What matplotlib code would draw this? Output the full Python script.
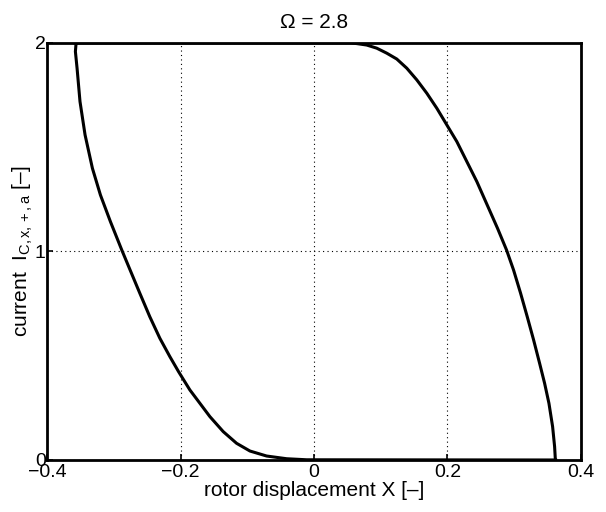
import numpy as np
import matplotlib
matplotlib.use('Agg')
import matplotlib.pyplot as plt

plt.rcParams['font.family'] = ['Liberation Sans', 'DejaVu Sans']
plt.rcParams['mathtext.fontset'] = 'custom'
plt.rcParams['mathtext.rm'] = 'Liberation Sans'
plt.rcParams['mathtext.it'] = 'Liberation Sans'

# Right-hand branch: current drops from 2 to 0 as X grows
x_right = [-0.358, 0.054, 0.064, 0.079, 0.094, 0.109, 0.124, 0.139, 0.154,
           0.169, 0.184, 0.199, 0.214, 0.229, 0.244, 0.2595, 0.275, 0.2885,
           0.299, 0.3095, 0.3195, 0.329, 0.338, 0.3455, 0.352, 0.3575, 0.3605,
           0.3615, 0.362]
i_right = [2.0, 2.0, 1.997, 1.990, 1.975, 1.951, 1.923, 1.879, 1.823,
           1.759, 1.687, 1.607, 1.527, 1.431, 1.335, 1.223, 1.111, 1.007,
           0.911, 0.800, 0.687, 0.576, 0.464, 0.368, 0.272, 0.160, 0.064,
           0.008, 0.0]

# Left-hand branch: current rises from 0 back to 2 as X decreases
x_left = [0.362, -0.011, -0.041, -0.071, -0.096, -0.116, -0.136, -0.156,
          -0.171, -0.186, -0.203, -0.216, -0.231, -0.246, -0.261, -0.2755,
          -0.288, -0.305, -0.320, -0.332, -0.343, -0.3506, -0.355, -0.3575,
          -0.3565, -0.355]
i_left = [0.0, 0.001, 0.006, 0.019, 0.043, 0.080, 0.136, 0.208,
          0.272, 0.336, 0.424, 0.496, 0.584, 0.687, 0.800, 0.911,
          1.007, 1.143, 1.271, 1.399, 1.559, 1.719, 1.879, 1.959,
          1.998, 2.0]

x_ticks = [-0.4, -0.2, 0, 0.2, 0.4]
x_ticklabels = ['\u22120.4', '\u22120.2', '0', '0.2', '0.4']
y_ticks = [0, 1, 2]

fig = plt.figure(figsize=(6.06, 5.12), dpi=100)
ax = fig.add_axes([0.0776, 0.1016, 0.8811, 0.8145])

ax.plot(x_right, i_right, 'k-', lw=2.2, solid_joinstyle='round')
ax.plot(x_left, i_left, 'k-', lw=2.2, solid_joinstyle='round')

ax.set_xlim(-0.4, 0.4)
ax.set_ylim(0, 2)
ax.set_xticks(x_ticks)
ax.set_xticklabels(x_ticklabels)
ax.set_yticks(y_ticks)
ax.grid(True, color='black', linestyle=(0, (1, 3)), linewidth=0.8)
ax.tick_params(direction='in', length=4, width=1.2, labelsize=14, pad=1)
ax.tick_params(axis='x', pad=3)
for side in ax.spines.values():
    side.set_linewidth(2.0)

ax.set_title('\u03a9 = 2.8', fontsize=15, pad=11)
ax.set_xlabel('rotor displacement X [\u2013]', fontsize=15, labelpad=0)
ax.set_ylabel('current  $\\mathrm{I}_{\\mathrm{C,x,+,a}}$ [\u2013]', fontsize=15, labelpad=0)

plt.savefig('out.png', dpi=100)
